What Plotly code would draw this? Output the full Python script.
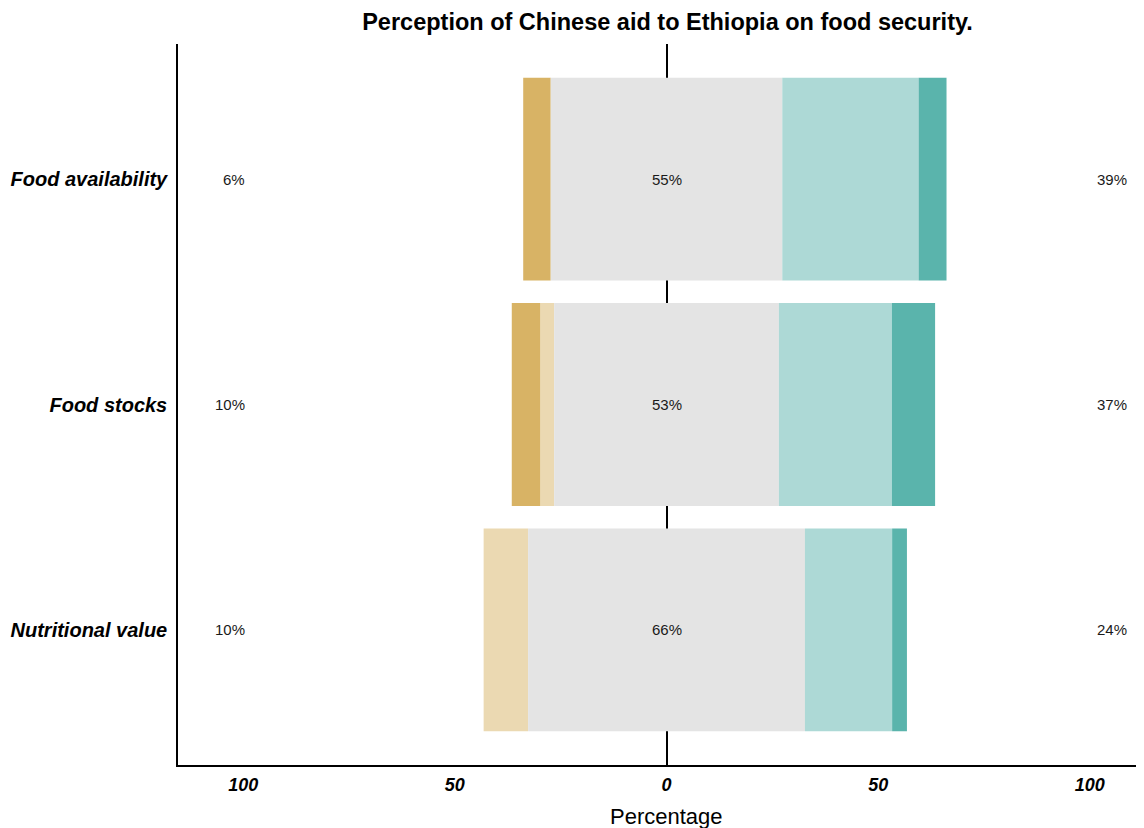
import plotly.graph_objects as go

# ---- data ----
categories = ["Food availability", "Food stocks", "Nutritional value"]
strongly_disagree = [6.5, 6.8, 0.0]
disagree = [0.0, 3.2, 10.5]
neutral = [54.7, 53.1, 65.4]
agree = [32.2, 26.7, 20.6]
strongly_agree = [6.6, 10.2, 3.5]
left_labels = ["6%", "10%", "10%"]
center_labels = ["55%", "53%", "66%"]
right_labels = ["39%", "37%", "24%"]
tick_vals = [-100, -50, 0, 50, 100]
tick_text = ["100", "50", "0", "50", "100"]

c_sd = "#D8B365"
c_d = "#EBD9B2"
c_n = "#E4E4E4"
c_a = "#ADD9D6"
c_sa = "#5AB4AC"

FONT = "Liberation Sans, Arial, Helvetica, sans-serif"

# segment starts, computed outward from the centre of the neutral block
n_start = [-v / 2 for v in neutral]
d_start = [s - d for s, d in zip(n_start, disagree)]
sd_start = [s - v for s, v in zip(d_start, strongly_disagree)]
a_start = [v / 2 for v in neutral]
sa_start = [s + a for s, a in zip(a_start, agree)]

fig = go.Figure()


def add_bar(widths, bases, color):
    fig.add_trace(go.Bar(
        y=categories, x=widths, base=bases, orientation="h",
        marker=dict(color=color, line=dict(width=0)),
        width=0.9, showlegend=False, hoverinfo="skip",
    ))


add_bar(strongly_disagree, sd_start, c_sd)
add_bar(disagree, d_start, c_d)
add_bar(neutral, n_start, c_n)
add_bar(agree, a_start, c_a)
add_bar(strongly_agree, sa_start, c_sa)

lab_font = dict(family=FONT, size=15, color="#1a1a1a")
for cat, l, c, r in zip(categories, left_labels, center_labels, right_labels):
    fig.add_annotation(x=-99.1, y=cat, text=l, showarrow=False, xanchor="right",
                       yanchor="middle", font=lab_font)
    fig.add_annotation(x=0, y=cat, text=c, showarrow=False, xanchor="center",
                       yanchor="middle", font=lab_font)
    fig.add_annotation(x=101.2, y=cat, text=r, showarrow=False, xanchor="left",
                       yanchor="middle", font=lab_font)

W, H = 1136, 820
PLOT_TOP, PLOT_BOTTOM = 36, 757
# x-axis title placed as an annotation for exact positioning
fig.add_annotation(x=0, xref="x", y=-(808 - PLOT_BOTTOM) / (PLOT_BOTTOM - PLOT_TOP),
                   yref="paper", text="Percentage", showarrow=False, xanchor="center",
                   yanchor="middle", font=dict(family=FONT, size=22, color="black"))

fig.update_layout(
    width=W, height=H,
    margin=dict(l=170, r=0, t=PLOT_TOP, b=H - PLOT_BOTTOM, autoexpand=False),
    barmode="overlay",
    plot_bgcolor="white", paper_bgcolor="white",
    font=dict(family=FONT, color="black"),
    title=dict(
        text="<b>Perception of Chinese aid to Ethiopia on food security.</b>",
        font=dict(family=FONT, size=23.5, color="black"),
        x=659.5 / W, xref="container", xanchor="center",
        y=1 - 14 / H, yref="container", yanchor="middle",
    ),
    xaxis=dict(
        range=[-115.4, 112.8],
        tickvals=tick_vals, ticktext=tick_text,
        tickfont=dict(family=FONT, size=18, color="black", weight="bold", style="italic"),
        showgrid=False,
        zeroline=True, zerolinecolor="black", zerolinewidth=1.5,
        showline=True, linecolor="black", linewidth=1.5,
        ticks="", ticklabelstandoff=3,
        automargin=False,
    ),
    yaxis=dict(
        categoryorder="array", categoryarray=categories,
        range=[2.6, -0.6],
        tickfont=dict(family=FONT, size=20, color="black", weight="bold", style="italic"),
        showgrid=False, zeroline=False,
        showline=True, linecolor="black", linewidth=1.5,
        ticks="", ticklabelstandoff=5,
        automargin=False,
    ),
)

fig.write_html("out.html")
